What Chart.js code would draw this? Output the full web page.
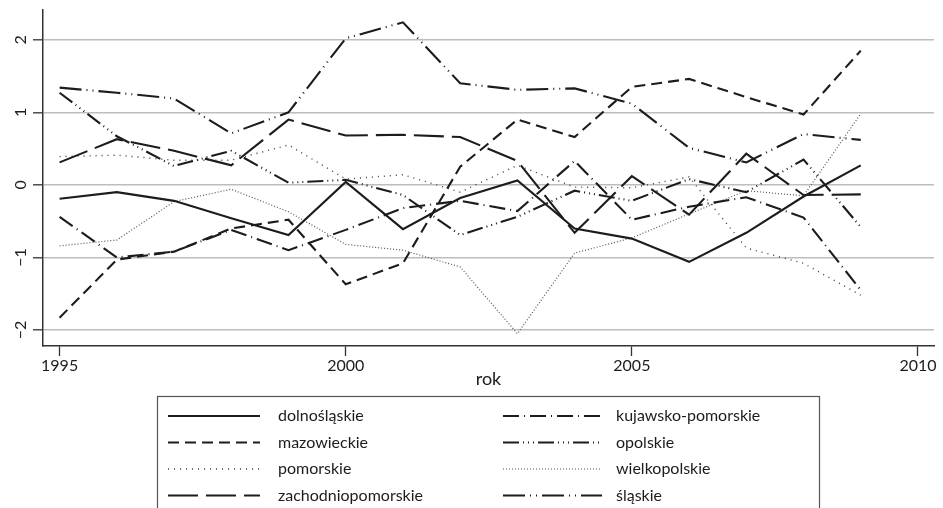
<!DOCTYPE html>
<html>
<head>
<meta charset="utf-8">
<script src="https://cdn.jsdelivr.net/npm/chart.js@4.4.1/dist/chart.umd.min.js"></script>
<style>
  html, body { margin: 0; padding: 0; background: #fff; }
  #wrap { width: 943px; height: 508px; }
</style>
</head>
<body>
<div id="wrap"><canvas id="chart" width="943" height="508"></canvas></div>
<script>
'use strict';

// data (1995-2009)
const years = [1995, 1996, 1997, 1998, 1999, 2000, 2001, 2002, 2003, 2004, 2005, 2006, 2007, 2008, 2009];
const xTicks = [1995, 2000, 2005, 2010];
const yTicks = [-2, -1, 0, 1, 2];

const dolnoslaskie       = [-0.19, -0.10, -0.22, -0.46, -0.69, 0.04, -0.61, -0.18, 0.06, -0.60, -0.74, -1.06, -0.66, -0.16, 0.27];
const kujawskoPomorskie  = [-0.44, -1.00, -0.92, -0.62, -0.90, -0.62, -0.32, -0.22, -0.36, 0.33, -0.48, -0.30, -0.17, -0.45, -1.45];
const mazowieckie        = [-1.83, -1.03, -0.92, -0.60, -0.48, -1.37, -1.08, 0.25, 0.90, 0.66, 1.35, 1.46, 1.21, 0.97, 1.85];
const opolskie           = [1.27, 0.67, 0.26, 0.47, 0.03, 0.07, -0.14, -0.69, -0.44, -0.08, -0.22, 0.08, -0.10, 0.35, -0.58];
const pomorskie          = [0.39, 0.41, 0.34, 0.34, 0.55, 0.08, 0.14, -0.10, 0.27, -0.03, -0.04, 0.11, -0.87, -1.08, -1.52];
const wielkopolskie      = [-0.84, -0.76, -0.23, -0.06, -0.37, -0.82, -0.90, -1.13, -2.05, -0.94, -0.73, -0.40, -0.08, -0.15, 0.98];
const zachodniopomorskie = [0.31, 0.63, 0.47, 0.27, 0.90, 0.68, 0.69, 0.66, 0.33, -0.66, 0.12, -0.41, 0.43, -0.14, -0.13];
const slaskie            = [1.34, 1.27, 1.19, 0.71, 1.00, 2.02, 2.24, 1.40, 1.31, 1.33, 1.12, 0.51, 0.31, 0.70, 0.62];

const FONT = 'Lato, "Open Sans", "DejaVu Sans", sans-serif';
const INK = '#1c1c1c';

function series(label, values, dash, color, width) {
  return {
    label: label,
    data: years.map((y, i) => ({ x: y, y: values[i] })),
    borderColor: color || INK,
    borderWidth: width || 2.1,
    borderDash: dash,
    pointRadius: 0,
    fill: false,
    tension: 0
  };
}

// rotated y tick labels (Stata style)
const yLabelPlugin = {
  id: 'yLabels',
  afterDraw(chart) {
    const ctx = chart.ctx, sc = chart.scales.y;
    ctx.save();
    ctx.font = '16px ' + FONT;
    ctx.fillStyle = INK;
    ctx.textAlign = 'center';
    ctx.textBaseline = 'middle';
    sc.ticks.forEach(t => {
      const py = sc.getPixelForValue(t.value);
      ctx.save();
      ctx.translate(21, py);
      ctx.rotate(-Math.PI / 2);
      ctx.fillText(t.value < 0 ? '\u2212' + Math.abs(t.value) : String(t.value), 0, 0);
      ctx.restore();
    });
    ctx.restore();
  }
};

// boxed two-column legend under the plot
const legendPlugin = {
  id: 'boxLegend',
  afterDraw(chart) {
    const ctx = chart.ctx;
    const box = { l: 157.5, t: 396.5, r: 819.5, b: 530 };
    ctx.save();
    ctx.strokeStyle = '#555';
    ctx.lineWidth = 1.2;
    ctx.strokeRect(box.l, box.t, box.r - box.l, box.b - box.t);
    ctx.font = '16px ' + FONT;
    ctx.fillStyle = INK;
    ctx.textBaseline = 'middle';
    chart.data.datasets.forEach((ds, i) => {
      const col = i % 2, row = Math.floor(i / 2);
      const y = 416 + row * 26.5;
      const x0 = col === 0 ? 168 : 503;
      const x1 = col === 0 ? 260 : 602;
      const tx = col === 0 ? 278 : 616;
      ctx.save();
      ctx.strokeStyle = ds.borderColor;
      ctx.lineWidth = ds.borderWidth;
      ctx.setLineDash(ds.borderDash || []);
      ctx.beginPath();
      ctx.moveTo(x0, y);
      ctx.lineTo(x1, y);
      ctx.stroke();
      ctx.restore();
      ctx.fillText(ds.label, tx, y);
    });
    ctx.restore();
  }
};

const ctx = document.getElementById('chart').getContext('2d');
new Chart(ctx, {
  type: 'line',
  data: {
    datasets: [
      series('dolnośląskie', dolnoslaskie, []),
      series('kujawsko-pomorskie', kujawskoPomorskie, [16, 5, 1, 5]),
      series('mazowieckie', mazowieckie, [11, 6]),
      series('opolskie', opolskie, [16, 4, 1, 4, 1, 4, 1, 4]),
      series('pomorskie', pomorskie, [1, 5], '#3a3a3a', 1.4),
      series('wielkopolskie', wielkopolskie, [1, 2], '#555', 1.2),
      series('zachodniopomorskie', zachodniopomorskie, [30, 8]),
      series('śląskie', slaskie, [22, 5, 1, 5, 1, 5])
    ]
  },
  options: {
    responsive: false,
    animation: false,
    devicePixelRatio: 1,
    layout: { padding: { top: 10, right: 9, left: 0, bottom: 118 } },
    plugins: { legend: { display: false }, tooltip: { enabled: false } },
    scales: {
      x: {
        type: 'linear',
        min: 1994.71,
        max: 2010.28,
        afterBuildTicks: s => { s.ticks = xTicks.map(v => ({ value: v })); },
        afterFit: s => { s.height = 44; },
        ticks: { color: INK, font: { size: 16, family: FONT }, padding: 0, maxRotation: 0, callback: v => String(v) },
        grid: { drawOnChartArea: false, drawTicks: true, tickLength: 10, tickColor: '#333', tickWidth: 1.3 },
        border: { display: true, color: '#333', width: 1.5 },
        title: { display: true, text: 'rok', color: INK, font: { size: 18, family: FONT }, padding: 0 }
      },
      y: {
        min: -2.22,
        max: 2.41,
        afterBuildTicks: s => { s.ticks = yTicks.map(v => ({ value: v })); },
        afterFit: s => { s.width = 43; },
        ticks: { display: false },
        grid: { color: '#bdbdbd', lineWidth: 1.6, drawTicks: true, tickLength: 10, tickColor: '#333', tickWidth: 1.3 },
        border: { display: true, color: '#333', width: 1.5 }
      }
    }
  },
  plugins: [yLabelPlugin, legendPlugin]
});
</script>
</body>
</html>
